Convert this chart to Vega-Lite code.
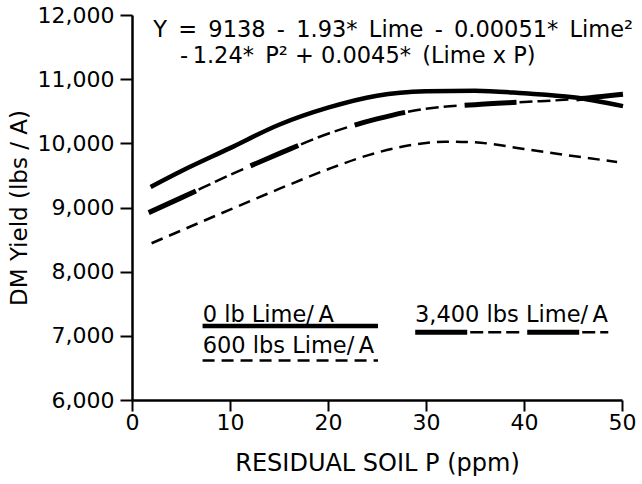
{
  "$schema": "https://vega.github.io/schema/vega-lite/v6.json",
  "width": 490,
  "height": 385,
  "autosize": {"type": "none"},
  "padding": {"left": 132, "top": 15, "right": 20, "bottom": 84},
  "background": "white",
  "config": {"view": {"stroke": null}, "font": "DejaVu Sans"},
  "datasets": {
    "lines": [
      {"g": "c0", "s": "solid", "P": 1.9, "Y": 9320},
      {"g": "c0", "s": "solid", "P": 5, "Y": 9565},
      {"g": "c0", "s": "solid", "P": 10, "Y": 9925},
      {"g": "c0", "s": "solid", "P": 15, "Y": 10290},
      {"g": "c0", "s": "solid", "P": 20, "Y": 10556},
      {"g": "c0", "s": "solid", "P": 25, "Y": 10743},
      {"g": "c0", "s": "solid", "P": 30, "Y": 10811},
      {"g": "c0", "s": "solid", "P": 35, "Y": 10821},
      {"g": "c0", "s": "solid", "P": 40, "Y": 10780},
      {"g": "c0", "s": "solid", "P": 45, "Y": 10718},
      {"g": "c0", "s": "solid", "P": 50.1, "Y": 10580},
      {"g": "c3400", "s": "alt", "P": 1.7, "Y": 8920},
      {"g": "c3400", "s": "alt", "P": 5, "Y": 9150},
      {"g": "c3400", "s": "alt", "P": 10, "Y": 9507},
      {"g": "c3400", "s": "alt", "P": 15, "Y": 9839},
      {"g": "c3400", "s": "alt", "P": 20, "Y": 10150},
      {"g": "c3400", "s": "alt", "P": 25, "Y": 10380},
      {"g": "c3400", "s": "alt", "P": 30, "Y": 10540},
      {"g": "c3400", "s": "alt", "P": 35, "Y": 10603},
      {"g": "c3400", "s": "alt", "P": 40, "Y": 10645},
      {"g": "c3400", "s": "alt", "P": 45, "Y": 10687},
      {"g": "c3400", "s": "alt", "P": 50.1, "Y": 10764},
      {"g": "c600", "s": "thin", "P": 2, "Y": 8443},
      {"g": "c600", "s": "thin", "P": 5, "Y": 8640},
      {"g": "c600", "s": "thin", "P": 10, "Y": 8967},
      {"g": "c600", "s": "thin", "P": 15, "Y": 9289},
      {"g": "c600", "s": "thin", "P": 20, "Y": 9596},
      {"g": "c600", "s": "thin", "P": 25, "Y": 9855},
      {"g": "c600", "s": "thin", "P": 30, "Y": 10005},
      {"g": "c600", "s": "thin", "P": 32, "Y": 10026},
      {"g": "c600", "s": "thin", "P": 35, "Y": 10015},
      {"g": "c600", "s": "thin", "P": 40, "Y": 9912},
      {"g": "c600", "s": "thin", "P": 45, "Y": 9803},
      {"g": "c600", "s": "thin", "P": 49.5, "Y": 9710},
      {"g": "k0", "s": "solid", "P": 7.2, "Y": 7154},
      {"g": "k0", "s": "solid", "P": 25.1, "Y": 7154},
      {"g": "k600", "s": "thin", "P": 7.2, "Y": 6614},
      {"g": "k600", "s": "thin", "P": 25.1, "Y": 6614},
      {"g": "k3400", "s": "alt", "P": 28.9, "Y": 7056},
      {"g": "k3400", "s": "alt", "P": 48.6, "Y": 7056}
    ],
    "labels": [
      {"t": "Y\u2002=\u20029138\u2002-\u20021.93*\u2002Lime\u2002-\u20020.00051*\u2002Lime\u00b2", "P": 2.17, "Y": 11662},
      {"t": "-\u20091.24*\u2002P\u00b2 + 0.0045*\u2002(Lime x P)", "P": 4.9, "Y": 11247},
      {"t": "0 lb Lime/\u2009A", "P": 7.21, "Y": 7222},
      {"t": "600 lbs Lime/\u2009A", "P": 7.21, "Y": 6734},
      {"t": "3,400 lbs Lime/\u2009A", "P": 28.88, "Y": 7222}
    ]
  },
  "encoding": {
    "x": {
      "field": "P",
      "type": "quantitative",
      "scale": {"domain": [0, 50], "nice": false, "zero": false},
      "axis": {
        "title": "RESIDUAL SOIL P (ppm)",
        "values": [0, 10, 20, 30, 40, 50],
        "grid": false,
        "domainColor": "black",
        "domainWidth": 2.5,
        "tickColor": "black",
        "tickWidth": 2,
        "tickSize": 11,
        "labelFont": "DejaVu Sans",
        "labelFontSize": 22,
        "labelColor": "black",
        "labelPadding": 1,
        "labelFlush": false,
        "titleFont": "DejaVu Sans",
        "titleFontSize": 24,
        "titleFontWeight": "normal",
        "titleColor": "black",
        "titlePadding": 18
      }
    },
    "y": {
      "field": "Y",
      "type": "quantitative",
      "scale": {"domain": [6000, 12000], "nice": false, "zero": false},
      "axis": {
        "title": "DM Yield (lbs / A)",
        "values": [6000, 7000, 8000, 9000, 10000, 11000, 12000],
        "format": ",.0f",
        "grid": false,
        "domainColor": "black",
        "domainWidth": 2.5,
        "tickColor": "black",
        "tickWidth": 2,
        "tickSize": 12,
        "labelFont": "DejaVu Sans",
        "labelFontSize": 22,
        "labelColor": "black",
        "labelPadding": 6,
        "titleFont": "DejaVu Sans",
        "titleFontSize": 23,
        "titleFontWeight": "normal",
        "titleColor": "black",
        "titlePadding": 6
      }
    }
  },
  "layer": [
    {
      "data": {"name": "lines"},
      "transform": [{"filter": "datum.s === 'solid'"}],
      "mark": {"type": "line", "color": "black", "strokeWidth": 4.5, "interpolate": "monotone", "strokeCap": "butt"},
      "encoding": {"detail": {"field": "g"}}
    },
    {
      "data": {"name": "lines"},
      "transform": [{"filter": "datum.s === 'thin'"}],
      "mark": {"type": "line", "color": "black", "strokeWidth": 2.5, "strokeDash": [12, 7], "interpolate": "monotone", "strokeCap": "butt"},
      "encoding": {"detail": {"field": "g"}}
    },
    {
      "data": {"name": "lines"},
      "transform": [{"filter": "datum.s === 'alt'"}],
      "mark": {"type": "line", "color": "black", "strokeWidth": 5, "strokeDash": [52, 60], "interpolate": "monotone", "strokeCap": "butt"},
      "encoding": {"detail": {"field": "g"}}
    },
    {
      "data": {"name": "lines"},
      "transform": [{"filter": "datum.s === 'alt'"}],
      "mark": {"type": "line", "color": "black", "strokeWidth": 2.5, "strokeDash": [13, 5, 13, 5, 13, 63], "strokeDashOffset": 57, "interpolate": "monotone", "strokeCap": "butt"},
      "encoding": {"detail": {"field": "g"}}
    },
    {
      "data": {"name": "labels"},
      "mark": {"type": "text", "align": "left", "baseline": "alphabetic", "font": "DejaVu Sans", "fontSize": 22.5, "color": "black"},
      "encoding": {"text": {"field": "t"}}
    }
  ]
}
